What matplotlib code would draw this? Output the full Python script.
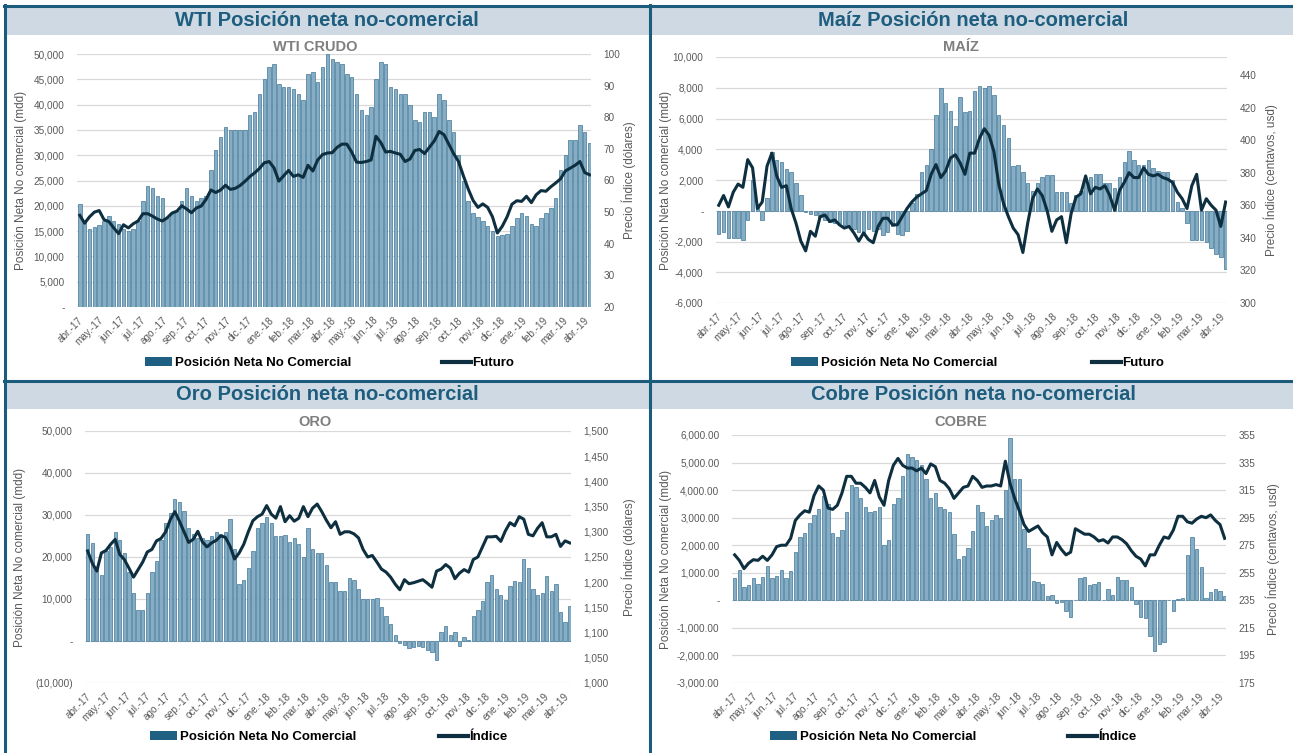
import numpy as np
import pandas as pd
import matplotlib
matplotlib.use('Agg')
import matplotlib.pyplot as plt
from matplotlib.patches import Rectangle, Patch
from matplotlib.lines import Line2D
from matplotlib.ticker import FuncFormatter

# ---------------- datos (semanales, abr-2017 a abr-2019) ----------------
fechas = pd.date_range('2017-04-04', periods=106, freq='7D')
meses = pd.date_range('2017-04-01', '2019-04-01', freq='MS')
etiquetas_mes = ['abr.-17', 'may.-17', 'jun.-17', 'jul.-17', 'ago.-17', 'sep.-17',
                 'oct.-17', 'nov.-17', 'dic.-17', 'ene.-18', 'feb.-18', 'mar.-18',
                 'abr.-18', 'may.-18', 'jun.-18', 'jul.-18', 'ago.-18', 'sep.-18',
                 'oct.-18', 'nov.-18', 'dic.-18', 'ene.-19', 'feb.-19', 'mar.-19',
                 'abr.-19']

wti_pos = [20400, 17000, 15500, 15800, 16200, 17000, 18000, 17000, 16500, 15500,
           15000, 15500, 17000, 21000, 24000, 23500, 22000, 21500, 17500, 18500,
           19000, 21000, 23500, 22000, 21000, 21500, 22000, 27000, 31000, 33500,
           35500, 35000, 35000, 35000, 35000, 38000, 38500, 42000, 45000, 47500,
           48000, 44000, 43500, 43500, 43000, 42000, 41000, 46000, 46500, 44500,
           47500, 50000, 49000, 48500, 48000, 46000, 45500, 42000, 39000, 38000,
           39500, 45000, 48500, 48000, 43500, 43000, 42000, 42000, 40000, 37000,
           36500, 38500, 38500, 37500, 42000, 41000, 37000, 34500, 30000, 25000,
           21000, 18500, 17800, 17000, 16000, 15000, 14000, 14300, 14500, 16000,
           17500, 18500, 18000, 16500, 16000, 17500, 18500, 19500, 21500, 27000,
           30000, 33000, 33000, 36000, 34500, 32500]
wti_fut = [49.0, 46.5, 48.5, 50.0, 50.5, 47.6, 47.0, 45.0, 43.2, 46.0,
           45.0, 46.3, 47.2, 49.5, 49.5, 48.7, 47.8, 47.2, 48.2, 49.7,
           50.3, 52.0, 51.0, 49.8, 51.3, 51.9, 54.0, 57.0, 56.2, 57.0,
           58.5, 57.2, 57.5, 58.4, 59.7, 61.2, 62.4, 63.8, 65.6, 66.0,
           64.0, 59.8, 61.5, 63.2, 61.3, 61.8, 61.0, 64.8, 63.0, 66.5,
           68.2, 68.7, 68.8, 70.5, 71.5, 71.5, 69.0, 65.8, 65.7, 66.0,
           66.5, 74.0, 72.0, 69.0, 69.2, 68.7, 68.3, 66.0, 66.8, 69.5,
           69.8, 68.5, 70.5, 72.5, 75.5, 74.5, 71.5, 68.5, 66.0, 61.5,
           57.3, 53.7, 51.5, 52.6, 51.5, 48.5, 43.4, 45.5, 48.5, 52.5,
           53.6, 53.4, 55.0, 53.0, 55.5, 56.8, 56.6, 58.0, 59.2, 60.5,
           63.0, 63.9, 64.8, 66.0, 62.5, 61.8]

maiz_pos = [-1500, -1400, -1800, -1800, -1800, -1900, -600, 2000, 300, -600,
            800, 3800, 3300, 3200, 2700, 2500, 1800, 1000, -100, -200,
            -300, -400, -600, -700, -800, -800, -900, -1000, -1200, -1400,
            -1500, -1200, -1300, -1200, -1600, -1400, -1000, -1500, -1600, -1300,
            500, 1100, 2500, 3000, 4000, 6200, 8000, 7000, 6500, 5500,
            7400, 6400, 6500, 7800, 8100, 8000, 8100, 7500, 6200, 5600,
            4700, 2900, 3000, 2500, 1800, 1300, 1800, 2200, 2300, 2300,
            1200, 1200, 1200, 500, 1000, 1300, 1900, 2200, 2400, 2400,
            1800, 1800, 1500, 2200, 3200, 3900, 3300, 3000, 3000, 3300,
            2800, 2600, 2500, 2500, 2000, 600, 200, -800, -1900, -1900,
            -1900, -2000, -2400, -2800, -3000, -3800]
maiz_fut = [360, 366, 359, 368, 373, 371, 388, 383, 358, 362,
            384, 392, 378, 371, 372, 358, 349, 338, 332, 344,
            341, 353, 354, 350, 351, 348, 346, 347, 343, 338,
            343, 339, 337, 347, 352, 352, 348, 348, 353, 358,
            362, 365, 367, 369, 379, 385, 377, 381, 389, 391,
            386, 379, 392, 392, 401, 407, 403, 393, 373, 361,
            353, 346, 342, 331, 349, 364, 370, 366, 357, 344,
            351, 353, 337, 355, 365, 367, 378, 367, 371, 370,
            372, 366, 357, 369, 374, 380, 377, 377, 383, 379,
            378, 379, 377, 376, 374, 368, 364, 358, 372, 379,
            357, 364, 360, 357, 347, 362]

oro_pos = [25500, 23300, 17500, 15800, 21500, 22500, 26000, 24000, 21000, 16500,
           11500, 7400, 7500, 11500, 16500, 19000, 24000, 28000, 30500, 33800,
           33000, 31000, 27000, 25500, 24500, 24500, 24000, 25000, 26000, 25500,
           26000, 29000, 22000, 13500, 14500, 17500, 21500, 27000, 28000, 29500,
           28000, 25000, 25000, 25300, 23500, 24500, 23000, 20000, 27000, 22000,
           21000, 21000, 18000, 14000, 14000, 12000, 12000, 15000, 14500, 12500,
           10000, 10000, 10000, 10200, 8000, 6000, 4000, 1500, -500, -1000,
           -1700, -1500, -1200, -1500, -2200, -2500, -4500, 2200, 3600, 1500,
           2200, -1200, 1000, 300, 6000, 7500, 9500, 14000, 15800, 12500,
           11000, 9800, 13000, 14200, 14000, 19500, 17500, 12500, 11000, 11500,
           15500, 12000, 13500, 7000, 4500, 8300]
oro_ind = [1262, 1238, 1222, 1258, 1263, 1275, 1285, 1255, 1245, 1228,
           1210, 1225, 1240, 1260, 1265, 1282, 1287, 1300, 1324, 1340,
           1321, 1300, 1279, 1285, 1301, 1280, 1270, 1278, 1283, 1292,
           1289, 1272, 1246, 1258, 1275, 1300, 1322, 1330, 1335, 1352,
           1335, 1327, 1350, 1320, 1332, 1321, 1327, 1350, 1330, 1347,
           1355, 1340, 1323, 1308, 1320, 1295, 1300, 1300, 1296, 1288,
           1265, 1250, 1253, 1240, 1226, 1220, 1210, 1196, 1185, 1205,
           1197, 1199, 1202, 1205, 1198, 1190, 1222, 1226, 1235, 1228,
           1207, 1218, 1225, 1220, 1245, 1250, 1270, 1290, 1290, 1291,
           1281, 1302, 1318, 1312, 1330, 1325, 1295, 1292, 1307, 1318,
           1290, 1290, 1295, 1271, 1282, 1278]

cobre_pos = [800, 1100, 500, 550, 800, 600, 850, 1230, 800, 900,
             1100, 800, 1050, 1750, 2300, 2450, 2800, 3100, 3300, 3800,
             3500, 2450, 2300, 2550, 3200, 4200, 4100, 3700, 3400, 3200,
             3250, 3400, 2000, 2200, 3500, 3700, 4500, 5300, 5200, 5100,
             4900, 4400, 3700, 3900, 3400, 3300, 3200, 2400, 1500, 1600,
             1900, 2500, 3450, 3200, 2700, 2900, 3100, 3000, 4000, 5900,
             4400, 4400, 2600, 1900, 700, 650, 600, 150, 200, -100,
             -50, -400, -600, 20, 800, 850, 550, 600, 650, 30,
             400, 200, 850, 750, 750, 500, -150, -600, -650, -1300,
             -1850, -1600, -1500, 30, -400, 60, 80, 1650, 2300, 1850,
             1200, 100, 300, 400, 350, 150]
cobre_ind = [268, 264, 258, 262, 264.5, 264, 267, 264, 268, 274,
             275, 275, 280, 293, 297, 300, 299, 311, 318, 315,
             302, 301, 304, 313, 325, 325, 320, 320, 317, 313,
             322, 310, 304, 322, 333, 338, 333, 331, 331, 329,
             331, 327, 334, 332, 322, 320, 316, 309, 313, 317,
             318, 325, 322, 317, 318, 318, 319, 318, 336, 320,
             309, 300, 290, 285, 287, 289, 284, 281, 268, 277,
             272, 268, 270, 287, 285, 283, 283, 281, 278, 279,
             276.6, 281, 281, 279, 276, 271, 267, 265, 260, 268,
             268, 275, 281, 280, 286, 296, 296, 292, 291, 294,
             296, 295, 297, 293, 290, 280]

# ---------------- estilo ----------------
W, H = 1293, 753
BORDE = '#1b5b7b'
CABECERA = '#cfd9e4'
TITULO = '#1d5d7e'
BARRA = '#86adc4'
BARRA_BORDE = '#3f7898'
BARRA_LEG = '#1f6082'
LINEA = '#0e2f40'
GRIS = '#595959'
NARROW = ['Liberation Sans Narrow', 'Liberation Sans', 'DejaVu Sans']
plt.rcParams['font.family'] = ['Liberation Sans', 'DejaVu Sans']

fig = plt.figure(figsize=(W / 100, H / 100), dpi=100)


def fx(x):
    return x / W


def fy(y):
    return 1 - y / H


# marcos y cabeceras (sin borde derecho ni inferior, como en el original)
for y0, y1 in [(7, 35), (382, 409)]:
    fig.add_artist(Rectangle((fx(5), fy(y1)), 1 - fx(5), fy(y0) - fy(y1),
                             transform=fig.transFigure, color=CABECERA, lw=0, zorder=0))
fig.add_artist(Line2D([fx(4.5), fx(4.5)], [fy(4.5), 0], color=BORDE, lw=2.2))
fig.add_artist(Line2D([fx(3.5), 1], [fy(5.5), fy(5.5)], color=BORDE, lw=2.2))
fig.add_artist(Line2D([fx(650), fx(650)], [fy(5), 0], color=BORDE, lw=2.2))
fig.add_artist(Line2D([fx(4), 1], [fy(380.5), fy(380.5)], color=BORDE, lw=2.2))


def fmt_miles(v, p):
    return '-' if v == 0 else f'{v:,.0f}'


def fmt_paren(v, p):
    if v == 0:
        return '-'
    if v < 0:
        return f'({-v:,.0f})'
    return f'{v:,.0f}'


def fmt_dec(v, p):
    return '-' if v == 0 else f'{v:,.2f}'


def fmt_der(v, p):
    return f'{v:,.0f}'


def panel(caja, pos, precio, ylim1, paso1, f1, ylim2, ticks2,
          titulo, tx, ty, sub, sy, lab2, lx1, lx2, leg, nombre_linea):
    l, r, t, b = caja
    ax = fig.add_axes([fx(l), fy(b), fx(r) - fx(l), fy(t) - fy(b)])
    ax.bar(fechas, pos, width=5.0, color=BARRA, edgecolor=BARRA_BORDE,
           linewidth=0.5, zorder=2)
    ax.set_ylim(*ylim1)
    ax.set_yticks(np.arange(ylim1[0], ylim1[1] + 1, paso1))
    ax.yaxis.set_major_formatter(FuncFormatter(f1))
    ax.grid(axis='y', color='#d9d9d9', lw=0.9)
    ax.set_axisbelow(True)
    ax.set_xlim(pd.Timestamp('2017-03-31'), pd.Timestamp('2019-04-11'))
    ax.set_xticks(meses)
    ax.set_xticklabels(etiquetas_mes, rotation=45, ha='right', rotation_mode='anchor')
    ax.tick_params(length=0, labelsize=7.2, labelcolor=GRIS)
    ax.tick_params(axis='y', pad=9)
    ax.tick_params(axis='x', pad=6)
    for s in ax.spines.values():
        s.set_visible(False)

    ax2 = ax.twinx()
    ax2.plot(fechas, precio, color=LINEA, lw=2.2, zorder=3)
    ax2.set_ylim(*ylim2)
    ax2.set_yticks(ticks2)
    ax2.yaxis.set_major_formatter(FuncFormatter(fmt_der))
    ax2.tick_params(length=0, labelsize=7.2, labelcolor=GRIS, pad=9)
    for s in ax2.spines.values():
        s.set_visible(False)

    fig.text(fx(tx), fy(ty), titulo, ha='center', va='center', fontsize=14.5,
             fontweight='bold', color=TITULO, family=NARROW)
    fig.text(fx(tx - 12), fy(sy), sub, ha='center', va='center', fontsize=10.5,
             fontweight='bold', color='#7f7f7f', family=NARROW)
    ymid = (t + b) / 2
    fig.text(fx(lx1), fy(ymid), 'Posición Neta No comercial (mdd)', rotation=90,
             ha='center', va='center', fontsize=8.5, color=GRIS)
    fig.text(fx(lx2), fy(ymid), lab2, rotation=90,
             ha='center', va='center', fontsize=8.5, color=GRIS)

    (bx, lx, ly) = leg
    prop = dict(family=NARROW, weight='bold', size=9.5)
    fig.legend([Patch(facecolor=BARRA_LEG)], ['Posición Neta No Comercial'],
               loc='center left', bbox_to_anchor=(fx(bx), fy(ly)), frameon=False,
               prop=prop, handlelength=2.05, handleheight=0.6, handletextpad=0.2,
               borderpad=0, borderaxespad=0)
    fig.legend([Line2D([], [], color=LINEA, lw=3)], [nombre_linea],
               loc='center left', bbox_to_anchor=(fx(lx), fy(ly)), frameon=False,
               prop=prop, handlelength=2.2, handletextpad=0.1,
               borderpad=0, borderaxespad=0)
    return ax, ax2


panel((77, 591, 54, 307), wti_pos, wti_fut, (0, 50000), 5000, fmt_miles,
      (20, 100), np.arange(20, 101, 10),
      'WTI Posición neta no-comercial', 327, 20, 'WTI CRUDO', 47,
      'Precio Índice (dólares)', 21, 629, (145, 442, 363), 'Futuro')

panel((716, 1227, 57, 303), maiz_pos, maiz_fut, (-6000, 10000), 2000, fmt_miles,
      (300, 451), np.arange(300, 441, 20),
      'Maíz Posición neta no-comercial', 973, 20, 'MAÍZ', 47,
      'Precio Índice (centavos, usd)', 666, 1271, (791, 1092, 363), 'Futuro')

panel((85, 571, 431, 683), oro_pos, oro_ind, (-10000, 50000), 10000, fmt_paren,
      (1000, 1500), np.arange(1000, 1501, 50),
      'Oro Posición neta no-comercial', 327, 395, 'ORO', 422,
      'Precio Índice (dólares)', 20, 629, (150, 439, 737), 'Índice')

panel((732, 1226, 435, 683), cobre_pos, cobre_ind, (-3000, 6000), 1000, fmt_dec,
      (175, 355), np.arange(175, 356, 20),
      'Cobre Posición neta no-comercial', 973, 395, 'COBRE', 422,
      'Precio Índice (centavos, usd)', 666, 1273, (770, 1068, 737), 'Índice')

fig.savefig('out.png', dpi=100)
